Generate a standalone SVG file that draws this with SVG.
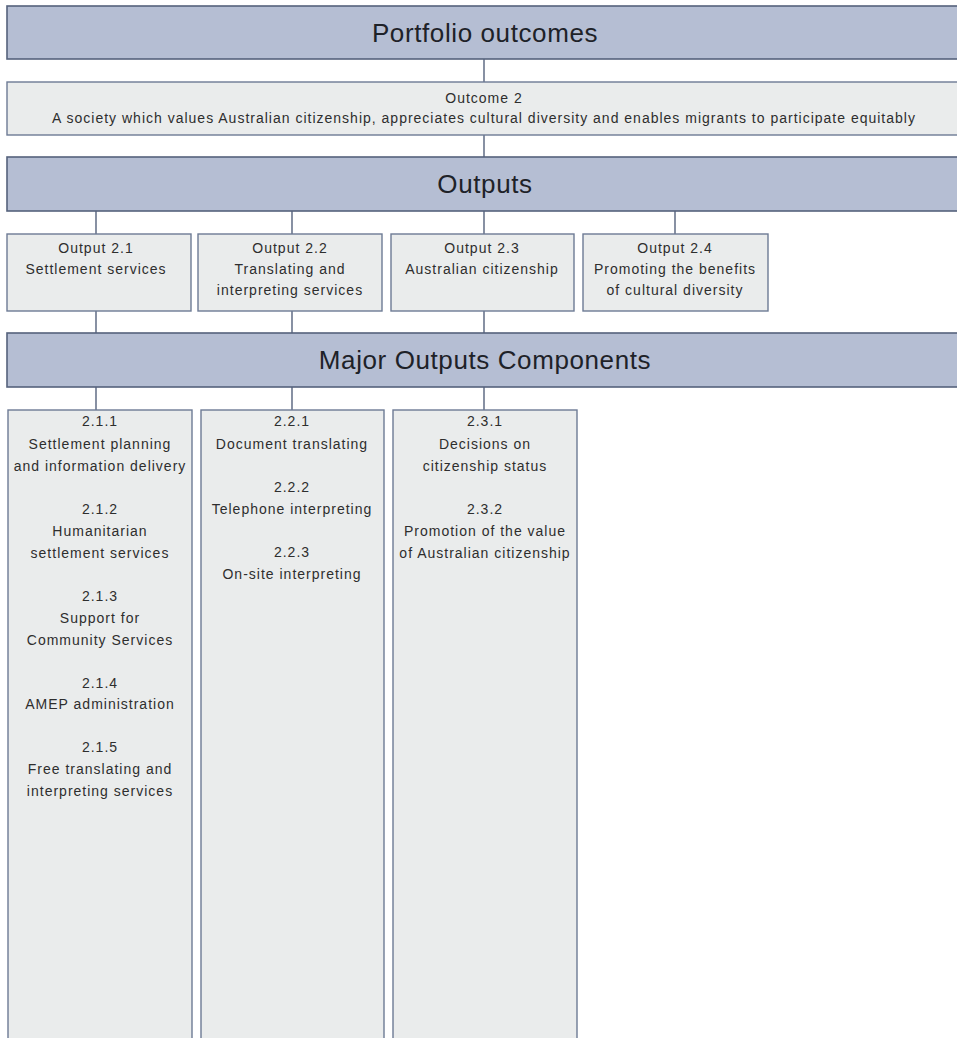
<svg xmlns="http://www.w3.org/2000/svg" width="957" height="1038" viewBox="0 0 957 1038">
<style>
.bar{fill:#b5bed3;stroke:#55627c;stroke-width:1.6}
.box{fill:#eaecec;stroke:#6d7b95;stroke-width:1.4}
.h{font-family:"Liberation Sans",Arial,sans-serif;font-size:26px;letter-spacing:0.6px;fill:#1e2228;text-anchor:middle}
.t{font-family:"Liberation Sans",Arial,sans-serif;font-size:14px;letter-spacing:1px;fill:#2e2e2e;text-anchor:middle}
.c{stroke:#55627c;stroke-width:1.4;fill:none}
</style>
<rect width="957" height="1038" fill="#ffffff"/>
<g id="connectors">
<line class="c" x1="484" y1="59" x2="484" y2="82"/>
<line class="c" x1="484" y1="135" x2="484" y2="157"/>
<line class="c" x1="96" y1="211" x2="96" y2="234"/>
<line class="c" x1="292" y1="211" x2="292" y2="234"/>
<line class="c" x1="484" y1="211" x2="484" y2="234"/>
<line class="c" x1="675" y1="211" x2="675" y2="234"/>
<line class="c" x1="96" y1="311" x2="96" y2="333"/>
<line class="c" x1="292" y1="311" x2="292" y2="333"/>
<line class="c" x1="484" y1="311" x2="484" y2="333"/>
<line class="c" x1="96" y1="387" x2="96" y2="410"/>
<line class="c" x1="292" y1="387" x2="292" y2="410"/>
<line class="c" x1="484" y1="387" x2="484" y2="410"/>
</g>
<g id="portfolio">
<rect class="bar" x="7" y="6" width="960" height="53"/>
<text class="h" x="485" y="42">Portfolio outcomes</text>
</g>
<g id="outcome2">
<rect class="box" x="7" y="82" width="960" height="53"/>
<text class="t" x="484" y="103">Outcome 2</text>
<text class="t" x="484" y="123">A society which values Australian citizenship, appreciates cultural diversity and enables migrants to participate equitably</text>
</g>
<g id="outputs">
<rect class="bar" x="7" y="157" width="960" height="54"/>
<text class="h" x="485" y="193">Outputs</text>
</g>
<g id="output21">
<rect class="box" x="7" y="234" width="184" height="77"/>
<text class="t" x="96" y="253">Output 2.1</text>
<text class="t" x="96" y="274">Settlement services</text>
</g>
<g id="output22">
<rect class="box" x="198" y="234" width="184" height="77"/>
<text class="t" x="290" y="253">Output 2.2</text>
<text class="t" x="290" y="274">Translating and</text>
<text class="t" x="290" y="295">interpreting services</text>
</g>
<g id="output23">
<rect class="box" x="391" y="234" width="183" height="77"/>
<text class="t" x="482" y="253">Output 2.3</text>
<text class="t" x="482" y="274">Australian citizenship</text>
</g>
<g id="output24">
<rect class="box" x="583" y="234" width="185" height="77"/>
<text class="t" x="675" y="253">Output 2.4</text>
<text class="t" x="675" y="274">Promoting the benefits</text>
<text class="t" x="675" y="295">of cultural diversity</text>
</g>
<g id="components">
<rect class="bar" x="7" y="333" width="960" height="54"/>
<text class="h" x="485" y="369">Major Outputs Components</text>
</g>
<g id="comp21">
<rect class="box" x="8" y="410" width="184" height="640"/>
<text class="t" x="100" y="426">2.1.1</text>
<text class="t" x="100" y="449">Settlement planning</text>
<text class="t" x="100" y="471">and information delivery</text>
<text class="t" x="100" y="514">2.1.2</text>
<text class="t" x="100" y="536">Humanitarian</text>
<text class="t" x="100" y="558">settlement services</text>
<text class="t" x="100" y="601">2.1.3</text>
<text class="t" x="100" y="623">Support for</text>
<text class="t" x="100" y="645">Community Services</text>
<text class="t" x="100" y="688">2.1.4</text>
<text class="t" x="100" y="709">AMEP administration</text>
<text class="t" x="100" y="752">2.1.5</text>
<text class="t" x="100" y="774">Free translating and</text>
<text class="t" x="100" y="796">interpreting services</text>
</g>
<g id="comp22">
<rect class="box" x="201" y="410" width="183" height="640"/>
<text class="t" x="292" y="426">2.2.1</text>
<text class="t" x="292" y="449">Document translating</text>
<text class="t" x="292" y="492">2.2.2</text>
<text class="t" x="292" y="514">Telephone interpreting</text>
<text class="t" x="292" y="557">2.2.3</text>
<text class="t" x="292" y="579">On-site interpreting</text>
</g>
<g id="comp23">
<rect class="box" x="393" y="410" width="184" height="640"/>
<text class="t" x="485" y="426">2.3.1</text>
<text class="t" x="485" y="449">Decisions on</text>
<text class="t" x="485" y="471">citizenship status</text>
<text class="t" x="485" y="514">2.3.2</text>
<text class="t" x="485" y="536">Promotion of the value</text>
<text class="t" x="485" y="558">of Australian citizenship</text>
</g>
</svg>
